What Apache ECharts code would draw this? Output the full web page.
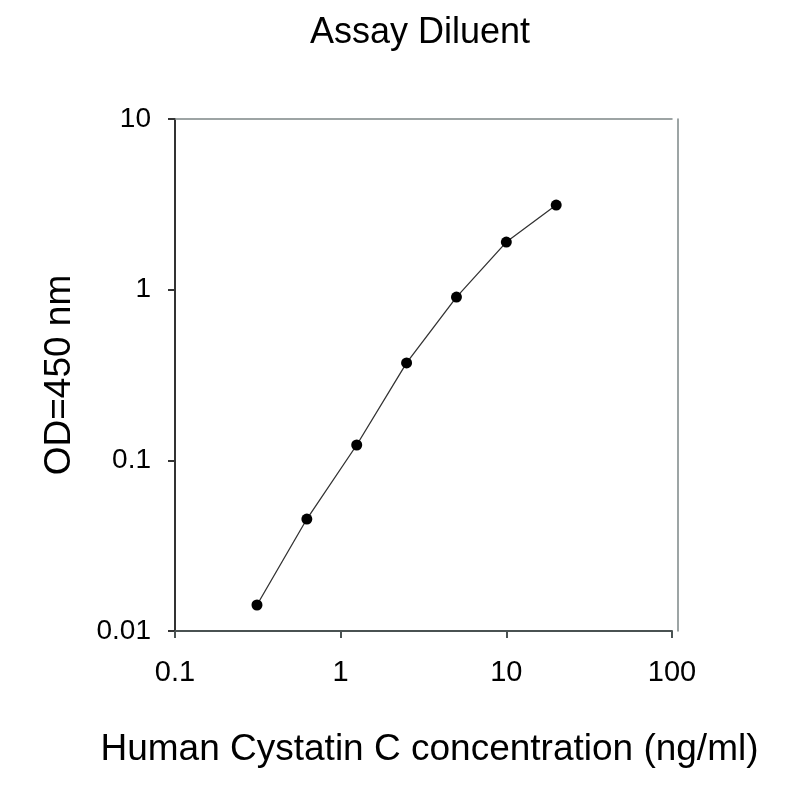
<!DOCTYPE html>
<html>
<head>
<meta charset="utf-8">
<script src="https://cdn.jsdelivr.net/npm/echarts@6/dist/echarts.min.js"></script>
<style>
  html, body { margin: 0; padding: 0; background: #fff; }
  #chart { width: 800px; height: 800px; }
</style>
</head>
<body>
<div id="chart"></div>
<script>
// 标准曲线数据 (ng/ml vs OD450)
const concentrations = [0.3125, 0.625, 1.25, 2.5, 5, 10, 20];
const odValues = [0.0142, 0.0453, 0.123, 0.372, 0.905, 1.90, 3.13];

const titleText = 'Assay Diluent';
const xName = 'Human Cystatin C concentration (ng/ml)';
const yName = 'OD=450 nm';

const FONT = 'Liberation Sans, Arial, sans-serif';
const frameColor = '#7d8787';

const chart = echarts.init(document.getElementById('chart'));

chart.setOption({
  backgroundColor: '#fff',
  animation: false,
  title: {
    text: titleText,
    left: 305,
    top: 10,
    textStyle: { fontFamily: FONT, fontSize: 36, fontWeight: 'normal', color: '#000' }
  },
  grid: {
    left: 175, right: 128, top: 119, bottom: 169,
    show: false
  },
  xAxis: [{
    type: 'log',
    logBase: 10,
    min: 0.1,
    max: 100,
    name: xName,
    nameLocation: 'middle',
    nameGap: 100,
    nameTextStyle: { fontFamily: FONT, fontSize: 37, color: '#000', padding: [0, 0, 0, 12] },
    axisLine: { lineStyle: { color: '#4a5252', width: 2 } },
    axisTick: { show: true, length: 7, lineStyle: { color: '#4a5252', width: 2 } },
    minorTick: { show: false },
    splitLine: { show: false },
    axisLabel: {
      fontFamily: FONT, fontSize: 29, color: '#000', margin: 27,
      formatter: v => String(v)
    }
  }, {
    // 顶部边框
    type: 'log',
    logBase: 10,
    min: 0.1,
    max: 100,
    position: 'top',
    axisLine: { lineStyle: { color: frameColor, width: 1.5 } },
    axisTick: { show: false },
    axisLabel: { show: false },
    splitLine: { show: false }
  }],
  yAxis: [{
    type: 'log',
    logBase: 10,
    min: 0.01,
    max: 10,
    name: yName,
    nameLocation: 'middle',
    nameGap: 97,
    nameRotate: 90,
    nameTextStyle: { fontFamily: FONT, fontSize: 37, color: '#000' },
    axisLine: { lineStyle: { color: '#333', width: 2 } },
    axisTick: { show: true, length: 7, lineStyle: { color: '#333', width: 2 } },
    splitLine: { show: false },
    axisLabel: {
      fontFamily: FONT, fontSize: 28, color: '#000', margin: 24,
      formatter: v => String(v)
    }
  }, {
    // 右侧边框
    type: 'log',
    logBase: 10,
    min: 0.01,
    max: 10,
    position: 'right',
    offset: 6,
    axisLine: { lineStyle: { color: frameColor, width: 1.5 } },
    axisTick: { show: false },
    axisLabel: { show: false },
    splitLine: { show: false }
  }],
  series: [{
    type: 'line',
    data: concentrations.map((c, i) => [c, odValues[i]]),
    symbol: 'circle',
    symbolSize: 11,
    itemStyle: { color: '#000' },
    lineStyle: { color: '#333', width: 1.3 }
  }]
});
</script>
</body>
</html>
